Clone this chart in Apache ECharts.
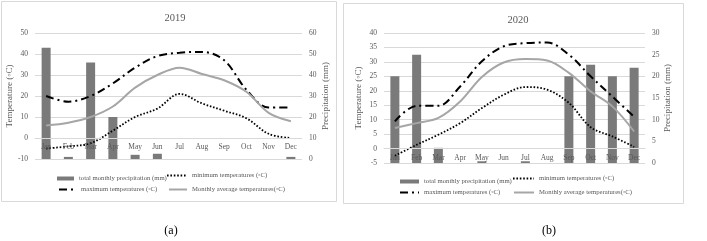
<!DOCTYPE html>
<html>
<head>
<meta charset="UTF-8">
<title>2019 / 2020 climate</title>
<script src="https://cdn.jsdelivr.net/npm/echarts@6/dist/echarts.min.js"></script>
<style>
  html, body { margin: 0; padding: 0; background: #fff; }
  #main { width: 707px; height: 241px; }
</style>
</head>
<body>
<div id="main"></div>
<script>
// data
const months = ['Jan','Feb','Mar','Apr','May','Jun','Jul','Aug','Sep','Oct','Nov','Dec'];

const prec2019 = [53, 1, 46, 20, 2, 2.5, 0, 0, 0, 0, 0, 1];
const min2019  = [-5, -4, -2.5, 3.5, 10, 14, 21, 16.5, 13, 9.4, 2, 0];
const max2019  = [20, 17.3, 20, 26, 33.5, 39, 40.6, 41, 37, 23, 14.5, 14.5];
const avg2019  = [6, 7.3, 10, 15, 24, 30, 33.5, 30.5, 27.5, 22, 12, 8];

const prec2020 = [20, 25, 3.5, 0, 0.4, 0, 0.4, 0, 20, 22.7, 20, 22];
const min2020  = [-2.5, 1.3, 4.8, 8.8, 14, 18.6, 21.3, 20.4, 15.8, 7.4, 4.2, 0.6];
const max2020  = [9.4, 14.8, 14.8, 21.5, 30.2, 35.4, 36.5, 36.7, 32.5, 25, 18, 11];
const avg2020  = [7.1, 8.8, 10.6, 16.3, 24.8, 29.8, 31, 30.5, 26.2, 19.8, 14.6, 5.9];

const N_PREC = 'total monthly precipitation (mm)';
const N_MIN = 'minimum temperatures (◦C)';
const N_MAX = 'maximum temperatures (◦C)';
const N_AVG = 'Monthly average temperatures(◦C)';

const FONT = '"Liberation Serif", "Times New Roman", serif';
const GREY = '#595959';
const GRID_LINE = '#d9d9d9';

const txt = (size) => ({ fontFamily: FONT, fontSize: size, color: GREY });

// month labels sit on the 0 °C line, like Excel does it
function xAxisFor(gi, shift) {
  return {
    gridIndex: gi, type: 'category', data: months, position: 'bottom', offset: shift,
    z: 5,
    axisLine: { onZero: false, lineStyle: { color: GRID_LINE } },
    axisTick: { show: false },
    axisLabel: Object.assign(txt(7.5), { margin: 5, interval: 0 })
  };
}

function yAxisFor(gi, pos, min, max, step, name, gap) {
  return {
    gridIndex: gi, type: 'value', position: pos, min: min, max: max, interval: step,
    name: name, nameLocation: 'middle', nameGap: gap, nameTextStyle: txt(9),
    axisLine: { show: false }, axisTick: { show: false },
    axisLabel: Object.assign(txt(7.5), { margin: 7 }),
    splitLine: { show: pos === 'left', lineStyle: { color: GRID_LINE, width: 1 } }
  };
}

function seriesFor(gi, yl, yr, prec, mn, mx, av) {
  return [
    { name: N_PREC, type: 'bar', xAxisIndex: gi, yAxisIndex: yr, data: prec,
      barWidth: 9, itemStyle: { color: '#7a7a7a' } },
    { name: N_MIN, type: 'line', xAxisIndex: gi, yAxisIndex: yl, data: mn,
      smooth: 0.35, symbol: 'none', itemStyle: { color: '#000' },
      lineStyle: { color: '#000', width: 1.8, type: [1.6, 1.8] } },
    { name: N_MAX, type: 'line', xAxisIndex: gi, yAxisIndex: yl, data: mx,
      smooth: 0.35, symbol: 'none', itemStyle: { color: '#000' },
      lineStyle: { color: '#000', width: 2, type: [8, 4, 2, 4] } },
    { name: N_AVG, type: 'line', xAxisIndex: gi, yAxisIndex: yl, data: av,
      smooth: 0.35, symbol: 'none', itemStyle: { color: '#a6a6a6' },
      lineStyle: { color: '#a6a6a6', width: 2 } }
  ];
}

function legendItem(name, left, top, w, h, isBar) {
  const l = {
    data: [name], left: left, top: top, padding: 0,
    itemWidth: w, itemHeight: h, selectedMode: false,
    textStyle: txt(6.7)
  };
  if (isBar) l.icon = 'rect';
  else l.itemStyle = { color: 'rgba(0,0,0,0)', borderWidth: 0, opacity: 0 };
  return l;
}

const chart = echarts.init(document.getElementById('main'));
chart.setOption({
  animation: false,
  title: [
    { text: '2019', left: 170, top: 8, textAlign: 'center', textStyle: Object.assign(txt(10.5), { fontWeight: 'normal' }) },
    { text: '2020', left: 513, top: 10, textAlign: 'center', textStyle: Object.assign(txt(10.5), { fontWeight: 'normal' }) }
  ],
  grid: [
    { left: 35, right: 405, top: 33, bottom: 82 },
    { left: 384, right: 62, top: 33, bottom: 78 }
  ],
  xAxis: [xAxisFor(0, -21), xAxisFor(1, -14.4)],
  yAxis: [
    yAxisFor(0, 'left', -10, 50, 10, 'Temperature (◦C)', 12),
    yAxisFor(0, 'right', 0, 60, 10, 'Precipitation (mm)', 19),
    yAxisFor(1, 'left', -5, 40, 5, 'Temperature (◦C)', 21),
    yAxisFor(1, 'right', 0, 30, 5, 'Precipitation (mm)', 16)
  ],
  legend: [
    legendItem(N_PREC, 57, 175, 17, 4, true),
    legendItem(N_MIN, 166, 172, 20, 8),
    legendItem(N_MAX, 58, 186, 17, 8),
    legendItem(N_AVG, 168, 186, 18, 8),
    legendItem(N_PREC, 400, 178, 19, 4, true),
    legendItem(N_MIN, 512, 175, 21, 8),
    legendItem(N_MAX, 399, 189, 19, 8),
    legendItem(N_AVG, 513, 189, 20, 8)
  ],
  series: [].concat(
    seriesFor(0, 0, 1, prec2019, min2019, max2019, avg2019),
    seriesFor(1, 2, 3, prec2020, min2020, max2020, avg2020)
  ),
  graphic: [
    { type: 'rect', shape: { x: 1.5, y: 1.5, width: 335, height: 200 },
      style: { fill: null, stroke: GRID_LINE, lineWidth: 1 }, silent: true },
    { type: 'rect', shape: { x: 343.5, y: 3.5, width: 340, height: 200 },
      style: { fill: null, stroke: GRID_LINE, lineWidth: 1 }, silent: true },
    { type: 'text', x: 171, y: 231, silent: true,
      style: { text: '(a)', fontFamily: FONT, fontSize: 12, fill: '#000', align: 'center', verticalAlign: 'middle' } },
    { type: 'text', x: 549, y: 231, silent: true,
      style: { text: '(b)', fontFamily: FONT, fontSize: 12, fill: '#000', align: 'center', verticalAlign: 'middle' } }
  ]
});
</script>
</body>
</html>
